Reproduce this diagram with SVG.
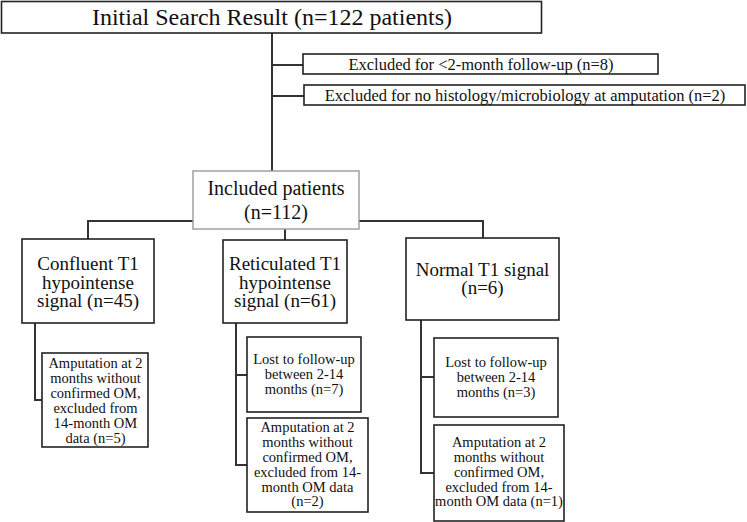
<svg xmlns="http://www.w3.org/2000/svg" width="747" height="522" viewBox="0 0 747 522">
<style>
.box{fill:#fff;stroke:#222;stroke-width:1.6}
.gbox{fill:#fff;stroke:#9a9a9a;stroke-width:1.4}
.con{fill:none;stroke:#333;stroke-width:2}
text{font-family:"Liberation Serif","Times New Roman",serif;fill:#111;text-anchor:middle}
.t1{font-size:24px}
.t2{font-size:16.5px}
.t3{font-size:20px}
.t4{font-size:19px}
.t5{font-size:14.5px}
</style>
<rect width="747" height="522" fill="#fff"/>
<g id="connectors">
<path class="con" d="M272,33 V172"/>
<path class="con" d="M272,65 H303"/>
<path class="con" d="M272,96 H304"/>
<path class="con" d="M88,239 V221 H483 V238"/>
<path class="con" d="M285,229 V240"/>
<path class="con" d="M35,323 V400 H42"/>
<path class="con" d="M236,323 V465 H247 M236,375 H247"/>
<path class="con" d="M421,320 V473 H434 M421,377 H434"/>
</g>
<g id="initial">
<rect class="box" x="1.5" y="1.5" width="540" height="31.5"/>
<text class="t1" x="272" y="24.5">Initial Search Result (n=122 patients)</text>
</g>
<g id="excl1">
<rect class="box" x="303" y="54" width="355" height="20"/>
<text class="t2" x="481" y="69.5">Excluded for &lt;2-month follow-up (n=8)</text>
</g>
<g id="excl2">
<rect class="box" x="304" y="85" width="441" height="20"/>
<text class="t2" x="525" y="100.5">Excluded for no histology/microbiology at amputation (n=2)</text>
</g>
<g id="included">
<rect class="gbox" x="193" y="171" width="166" height="58"/>
<text class="t3" x="276" y="195">Included patients</text>
<text class="t3" x="276" y="219">(n=112)</text>
</g>
<g id="confluent">
<rect class="box" x="22" y="239" width="132" height="84"/>
<text class="t4" x="88" y="270">Confluent T1</text>
<text class="t4" x="88" y="288.5">hypointense</text>
<text class="t4" x="88" y="307">signal (n=45)</text>
</g>
<g id="reticulated">
<rect class="box" x="223" y="240" width="124" height="83"/>
<text class="t4" x="285" y="270">Reticulated T1</text>
<text class="t4" x="285" y="288.5">hypointense</text>
<text class="t4" x="285" y="307">signal (n=61)</text>
</g>
<g id="normal">
<rect class="box" x="406" y="238" width="153" height="82"/>
<text class="t4" x="482.5" y="276">Normal T1 signal</text>
<text class="t4" x="482.5" y="294">(n=6)</text>
</g>
<g id="conf-amp">
<rect class="box" x="42" y="353" width="106" height="94"/>
<text class="t5" x="95.5" y="368.3">Amputation at 2</text>
<text class="t5" x="95.5" y="383.3">months without</text>
<text class="t5" x="95.5" y="398.3">confirmed OM,</text>
<text class="t5" x="95.5" y="413.3">excluded from</text>
<text class="t5" x="95.5" y="427.7">14-month OM</text>
<text class="t5" x="95.5" y="442.7">data (n=5)</text>
</g>
<g id="ret-lost">
<rect class="box" x="247" y="337" width="114" height="75"/>
<text class="t5" x="304" y="364">Lost to follow-up</text>
<text class="t5" x="304" y="378.5">between 2-14</text>
<text class="t5" x="304" y="394">months (n=7)</text>
</g>
<g id="ret-amp">
<rect class="box" x="247" y="418" width="121" height="94"/>
<text class="t5" x="307.5" y="431.7">Amputation at 2</text>
<text class="t5" x="307.5" y="446.7">months without</text>
<text class="t5" x="307.5" y="461.7">confirmed OM,</text>
<text class="t5" x="307.5" y="476.7">excluded from 14-</text>
<text class="t5" x="307.5" y="491.7">month OM data</text>
<text class="t5" x="307.5" y="506">(n=2)</text>
</g>
<g id="norm-lost">
<rect class="box" x="434" y="338" width="124" height="79"/>
<text class="t5" x="496" y="367">Lost to follow-up</text>
<text class="t5" x="496" y="382">between 2-14</text>
<text class="t5" x="496" y="397">months (n=3)</text>
</g>
<g id="norm-amp">
<rect class="box" x="434" y="425" width="130" height="96"/>
<text class="t5" x="499" y="447">Amputation at 2</text>
<text class="t5" x="499" y="462">months without</text>
<text class="t5" x="499" y="477">confirmed OM,</text>
<text class="t5" x="499" y="491.5">excluded from 14-</text>
<text class="t5" x="499" y="506">month OM data (n=1)</text>
</g>
</svg>
